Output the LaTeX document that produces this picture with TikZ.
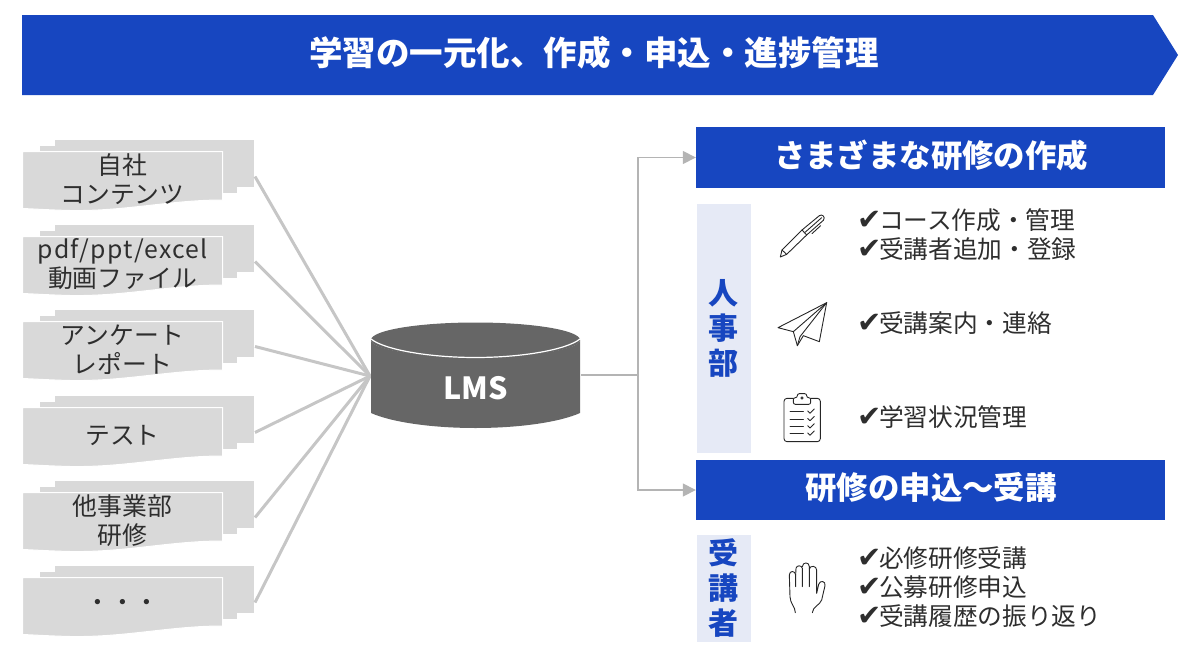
\documentclass[tikz,border=0pt]{standalone}
\usepackage{fontspec}
\setmainfont{Noto Sans CJK JP}
\newfontfamily\symfont{DejaVu Sans}
\usetikzlibrary{arrows.meta}
\definecolor{brandblue}{HTML}{1746C0}
\definecolor{sidepale}{HTML}{E6EAF6}
\definecolor{docgrey}{HTML}{D9D9D9}
\definecolor{linegrey}{HTML}{C6C6C6}
\definecolor{arrowgrey}{HTML}{B4B4B4}
\definecolor{cylgrey}{HTML}{666666}
\definecolor{inkdark}{HTML}{2E2E2E}
\newcommand{\fsz}[2]{\fontsize{#1}{#2}\selectfont}
\newcommand{\ck}{{\symfont\fsz{29}{24}\char"2714}\hspace{-3pt}}
\tikzset{
  docsheet/.style={fill=docgrey,draw=none},
  doctext/.style={inner sep=0pt,align=center,text=inkdark,font=\fsz{24.8}{29}},
  feed/.style={draw=linegrey,line width=3pt},
  branch/.style={draw=arrowgrey,line width=1.6pt},
  branchtip/.style={branch,-{Triangle[length=13pt,width=13pt,fill=arrowgrey]}},
  headbox/.style={fill=brandblue,draw=none,inner sep=0pt},
  headtext/.style={inner sep=0pt,text=white,font=\bfseries\fsz{31.4}{31}},
  sidebox/.style={fill=sidepale,draw=none,inner sep=0pt},
  sidetext/.style={inner sep=0pt,align=center,text=brandblue,font=\bfseries\fsz{30}{35}},
  itemtext/.style={inner sep=0pt,anchor=north west,align=left,text=inkdark,font=\fsz{24.7}{29}},
  iconline/.style={draw=black!85,line width=0.9pt,line join=round,line cap=round},
}
\newcommand{\docstack}[3]{%
  \begin{scope}[yshift=-#2pt]
    \fill[docsheet] (55,0) rectangle (254,47);
    \fill[docsheet] (40,6) rectangle (237,53);
    \draw[white,line width=1pt,fill=docgrey] (22.5,11.5) -- (222.5,11.5) -- (222.5,60)
       .. controls (170,60) and (125,71.5) .. (70,70.5) .. controls (50,70) and (35,69) .. (22.5,68.5) -- cycle;
    \node[doctext] (#1) at (122.5,39.5) {#3};
    \coordinate (#1out) at (255,36.5);
  \end{scope}}
\begin{document}
\begin{tikzpicture}[x=1pt,y=-1pt]
\useasboundingbox (0,0) rectangle (1200,653);

% banner
\fill[brandblue] (22,15) -- (1153,15) -- (1178,55) -- (1153,95) -- (22,95) -- cycle;
\node[inner sep=0pt,text=white,font=\bfseries\fsz{33.5}{34}] (title) at (594,53) {学習の一元化、作成・申込・進捗管理};

% document stacks
\docstack{doca}{140}{自社\\コンテンツ}
\docstack{docb}{225}{{\addfontfeature{LetterSpace=5}pdf/ppt/excel}\\動画ファイル}
\docstack{docc}{310}{アンケート\\レポート}
\docstack{docd}{396}{テスト}
\docstack{doce}{481}{他事業部\\研修}
\docstack{docf}{566}{・・・}

% LMS cylinder
\coordinate (lmsin) at (370,376);
\coordinate (lmsout) at (581,375);
\coordinate (trunk) at (638,375);
\foreach \d in {doca,docb,docc,docd,doce,docf}
  \draw[feed] (\d out) -- (lmsin);
\fill[cylgrey] (371,340) arc[start angle=180,end angle=360,x radius=104.5,y radius=-17]
   -- (580,413) .. controls (560,422) and (520,428) .. (475.5,428) .. controls (431,428) and (391,422) .. (371,413) -- cycle;
\fill[cylgrey] (475.5,340) ellipse[x radius=104.5,y radius=17.5];
\draw[white,line width=1.2pt] (371,339) .. controls (385,350) and (430,357.5) .. (475.5,357.5) .. controls (521,357.5) and (566,350) .. (580,339);
\node[inner sep=0pt,text=white,font=\bfseries\fsz{30.5}{31}] (lms) at (475.5,388.5) {LMS};

% headings
\node[headbox,minimum width=469pt,minimum height=61pt] (heada) at (930.5,157.5) {};
\node[headtext] (headatext) at (931,155.5) {さまざまな研修の作成};
\node[headbox,minimum width=469pt,minimum height=60pt] (headb) at (930.5,490) {};
\node[headtext] (headbtext) at (931,488) {研修の申込～受講};

% connectors
\draw[branch] (lmsout) -- (trunk);
\draw[branchtip] (trunk) |- (heada.west);
\draw[branchtip] (trunk) |- (headb.west);

% side labels
\node[sidebox,minimum width=54pt,minimum height=249pt] (sidea) at (724,328.5) {};
\node[sidetext] (sidealabel) at (723,328) {人\\事\\部};
\node[sidebox,minimum width=54pt,minimum height=107pt] (sideb) at (724,588.5) {};
\node[sidetext] (sideblabel) at (723,588) {受\\講\\者};

% item lists
\node[itemtext] (itema) at (857.5,208.5) {\ck コース作成・管理\\\ck 受講者追加・登録};
\node[itemtext] (itemb) at (857.5,311.5) {\ck 受講案内・連絡};
\node[itemtext] (itemc) at (857.5,405) {\ck 学習状況管理};
\node[itemtext] (itemd) at (857.5,546.5) {\ck 必修研修受講\\\ck 公募研修申込\\\ck 受講履歴の振り返り};

% icon: pen
\begin{scope}[shift={(690,195)},x=1/3pt,y=-1/3pt]
  \draw[iconline] (271,186) -- (276,165) -- (336,105) -- (350,120) -- (290,178) -- cycle;
  \draw[iconline] (276,165) -- (290,178);
  \draw[iconline] (336,105) -- (388,62) .. controls (396,56) and (408,66) .. (400,76) -- (350,120);
  \draw[iconline] (345,112) -- (395,68);
  \draw[iconline] (366,116) -- (392,92);
  % icon: paper plane
  \draw[iconline] (410,323) -- (264,398) -- (310,410) -- (322,452) -- (340,422) -- (388,440) -- cycle;
  \draw[iconline] (410,323) -- (310,410);
  \draw[iconline] (410,323) -- (330,425) -- (322,452);
  % icon: clipboard
  \draw[iconline,rounded corners=3pt] (310,610) -- (282,610) -- (282,740) -- (391,740) -- (391,610) -- (362,610);
  \draw[iconline,rounded corners=2pt] (310,628) -- (310,608) -- (322,608) -- (322,596) -- (350,596) -- (350,608) -- (362,608) -- (362,628) -- cycle;
  \draw[iconline] (336,609) circle[radius=3.5];
  \foreach \yy in {650,672,694,716} {
    \draw[iconline] (300,\yy) -- (340,\yy);
    \draw[iconline] (353,\yy-2) -- (360,\yy+5) -- (373,\yy-8);
  }
\end{scope}

% icon: hand
\begin{scope}[shift={(690,525)},x=1/3pt,y=-1/3pt]
  \draw[iconline] (316,263) .. controls (316,245) and (300,235) .. (300,215)
     -- (298,150) .. controls (298,136) and (316,136) .. (317,150) -- (317,185);
  \draw[iconline] (317,150) -- (318,130) .. controls (319,120) and (336,120) .. (337,130) -- (337,185);
  \draw[iconline] (337,125) .. controls (338,110) and (358,110) .. (358,125) -- (358,185);
  \draw[iconline] (358,132) .. controls (360,120) and (380,122) .. (380,135) -- (380,205)
     -- (386,178) .. controls (390,164) and (408,168) .. (405,182)
     -- (395,225) .. controls (390,240) and (368,245) .. (367,263);
\end{scope}
\end{tikzpicture}
\end{document}
